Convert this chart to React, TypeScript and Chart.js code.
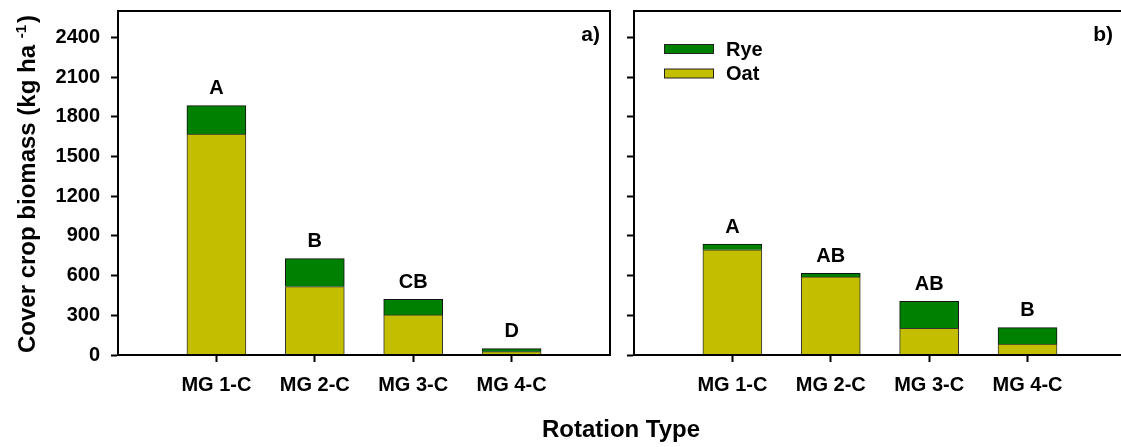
import { useEffect, useRef } from 'react';
import { Chart, registerables } from 'chart.js';

Chart.register(...registerables);

// ---- data ----
const categories = ['MG 1-C', 'MG 2-C', 'MG 3-C', 'MG 4-C'];
const oatA = [1670, 517, 303, 25];
const ryeA = [215, 212, 118, 23];
const lettersA = ['A', 'B', 'CB', 'D'];
const oatB = [795, 590, 202, 83];
const ryeB = [43, 28, 204, 124];
const lettersB = ['A', 'AB', 'AB', 'B'];
const yTicks = [0, 300, 600, 900, 1200, 1500, 1800, 2100, 2400];
const yMax = 2600;
const panelTags = ['a)', 'b)'];
const seriesNames = ['Oat', 'Rye'];
const yTitleMain = 'Cover crop biomass (kg ha ';
const yTitleSup = '-1';
const yTitleEnd = ')';
const xTitle = 'Rotation Type';

const OAT = '#c4be00';
const RYE = '#008000';
const FAM = "'Liberation Sans', Arial, Helvetica, sans-serif";
const W = 1121;
const H = 447;

function makeConfig(isLeft: boolean): any {
  const oat = isLeft ? oatA : oatB;
  const rye = isLeft ? ryeA : ryeB;
  const letters = isLeft ? lettersA : lettersB;
  const tag = isLeft ? panelTags[0] : panelTags[1];

  const overlay = {
    id: 'overlay' + (isLeft ? 'A' : 'B'),
    afterDraw(chart: any) {
      const ctx = chart.ctx;
      const ca = chart.chartArea;
      ctx.save();
      // frame
      ctx.strokeStyle = '#000';
      ctx.lineWidth = 2;
      ctx.beginPath();
      ctx.moveTo(ca.left, ca.bottom);
      ctx.lineTo(ca.left, ca.top);
      ctx.lineTo(ca.right, ca.top);
      if (isLeft) ctx.lineTo(ca.right, ca.bottom);
      ctx.moveTo(ca.left, ca.bottom);
      ctx.lineTo(ca.right, ca.bottom);
      ctx.stroke();

      // letters above bars
      const meta = chart.getDatasetMeta(1);
      ctx.fillStyle = '#000';
      ctx.font = `bold 20px ${FAM}`;
      ctx.textAlign = 'center';
      ctx.textBaseline = 'middle';
      meta.data.forEach((el: any, i: number) => {
        ctx.fillText(letters[i], el.x, el.y - 17);
      });

      // panel tag
      ctx.font = `bold 21px ${FAM}`;
      ctx.textAlign = 'right';
      ctx.fillText(tag, ca.right - (isLeft ? 10 : 8), 35);

      if (!isLeft) {
        // legend (Rye first, then Oat)
        const order = [1, 0];
        order.forEach((di, k) => {
          const ds = chart.data.datasets[di];
          const yc = 49 + k * 24.5;
          ctx.fillStyle = ds.backgroundColor;
          ctx.fillRect(ca.left + 30, yc - 4.5, 49, 9);
          ctx.lineWidth = 1;
          ctx.strokeStyle = '#222';
          ctx.strokeRect(ca.left + 30.5, yc - 4.5, 49, 9);
          ctx.fillStyle = '#000';
          ctx.font = `bold 20px ${FAM}`;
          ctx.textAlign = 'left';
          ctx.textBaseline = 'middle';
          ctx.fillText(ds.label, ca.left + 92, yc + 1);
        });
      } else {
        // y-axis title with superscript
        ctx.save();
        ctx.translate(35, 184);
        ctx.rotate(-Math.PI / 2);
        ctx.fillStyle = '#000';
        ctx.textBaseline = 'alphabetic';
        ctx.textAlign = 'left';
        const big = `bold 24px ${FAM}`;
        const small = `bold 15px ${FAM}`;
        ctx.font = big;
        const w1 = ctx.measureText(yTitleMain).width;
        const w3 = ctx.measureText(yTitleEnd).width;
        ctx.font = small;
        const w2 = ctx.measureText(yTitleSup).width;
        const total = w1 + w2 + w3 + 2;
        let x = -total / 2;
        ctx.font = big;
        ctx.fillText(yTitleMain, x, 0);
        x += w1;
        ctx.font = small;
        ctx.fillText(yTitleSup, x, -9);
        x += w2 + 2;
        ctx.font = big;
        ctx.fillText(yTitleEnd, x, 0);
        ctx.restore();

        // x-axis title
        ctx.font = `bold 24px ${FAM}`;
        ctx.textAlign = 'center';
        ctx.textBaseline = 'middle';
        ctx.fillStyle = '#000';
        ctx.fillText(xTitle, 621, 430);
      }
      ctx.restore();
    },
  };

  const tickFont = { family: FAM, size: 20, weight: 'bold' as const };

  return {
    type: 'bar',
    data: {
      datasets: [
        {
          label: seriesNames[0],
          data: oat.map((v, i) => ({ x: i + 1, y: v })),
          backgroundColor: OAT,
          borderColor: '#333',
          borderWidth: 1,
          barThickness: 59,
        },
        {
          label: seriesNames[1],
          data: rye.map((v, i) => ({ x: i + 1, y: v })),
          backgroundColor: RYE,
          borderColor: '#111',
          borderWidth: 1,
          barThickness: 59,
        },
      ],
    },
    options: {
      responsive: false,
      animation: false,
      events: [],
      layout: { padding: { top: 11, right: isLeft ? 511 : 0, left: 0, bottom: 0 } },
      plugins: { legend: { display: false }, tooltip: { enabled: false } },
      scales: {
        x: {
          type: 'linear',
          stacked: true,
          offset: false,
          min: 0,
          max: isLeft ? 5 : 4.95,
          afterBuildTicks: (s: any) => {
            s.ticks = categories.map((_, i) => ({ value: i + 1 }));
          },
          afterFit: (s: any) => {
            s.height = 92;
            s.paddingLeft = 0;
            s.paddingRight = 0;
          },
          ticks: {
            autoSkip: false,
            maxRotation: 0,
            padding: 11,
            color: '#000',
            font: tickFont,
            callback: (v: any) => categories[Number(v) - 1] ?? '',
          },
          grid: {
            offset: false,
            drawOnChartArea: false,
            drawTicks: true,
            tickLength: 7,
            tickWidth: 2,
            tickColor: '#000',
          },
          border: { display: true, color: '#000', width: 2 },
        },
        y: {
          type: 'linear',
          stacked: true,
          min: 0,
          max: yMax,
          afterBuildTicks: (s: any) => {
            s.ticks = yTicks.map((v) => ({ value: v }));
          },
          afterFit: (s: any) => {
            s.width = isLeft ? 118 : 634;
            s.paddingTop = 0;
            s.paddingBottom = 0;
          },
          ticks: {
            padding: 11,
            color: '#000',
            font: tickFont,
            callback: (v: any) => (isLeft ? String(v) : ''),
          },
          grid: {
            drawOnChartArea: false,
            drawTicks: true,
            tickLength: 7,
            tickWidth: 2,
            tickColor: '#000',
          },
          border: { display: true, color: '#000', width: 2 },
        },
      },
    },
    plugins: [overlay],
  };
}

export default function App() {
  const refA = useRef<HTMLCanvasElement | null>(null);
  const refB = useRef<HTMLCanvasElement | null>(null);

  useEffect(() => {
    if (!refA.current || !refB.current) return;
    const a = new Chart(refA.current, makeConfig(true));
    const b = new Chart(refB.current, makeConfig(false));
    return () => {
      a.destroy();
      b.destroy();
    };
  }, []);

  const cs: any = { position: 'absolute', left: 0, top: 0, width: W, height: H };
  return (
    <div style={{ position: 'absolute', left: 0, top: 0, width: W, height: H, background: '#fff', overflow: 'hidden' }}>
      <canvas ref={refA} width={W} height={H} style={cs} />
      <canvas ref={refB} width={W} height={H} style={cs} />
    </div>
  );
}
